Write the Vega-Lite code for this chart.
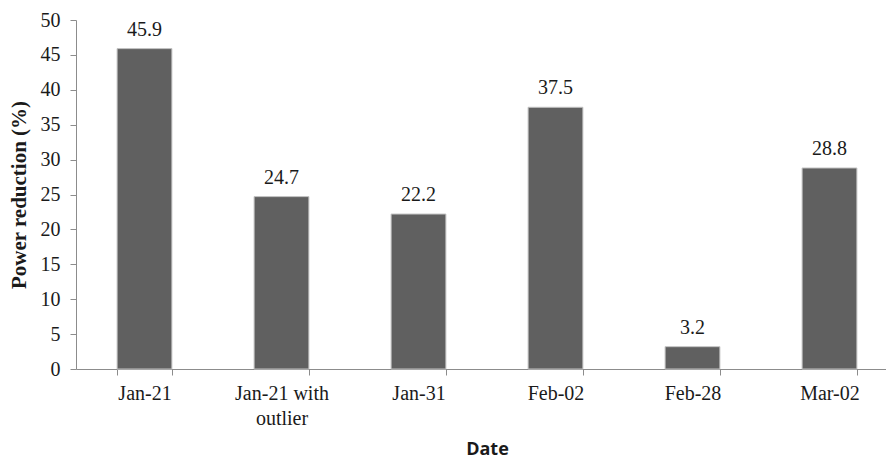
{
  "$schema": "https://vega.github.io/schema/vega-lite/v6.json",
  "width": 822,
  "height": 349,
  "autosize": {"type": "none"},
  "padding": {"left": 76, "top": 20, "right": 0, "bottom": 90},
  "background": "white",
  "config": {
    "view": {"stroke": null},
    "axis": {
      "domainColor": "#8c8c8c",
      "tickColor": "#8c8c8c",
      "grid": false,
      "labelFont": "'Liberation Serif', 'Times New Roman', serif",
      "labelFontSize": 20,
      "labelColor": "#1a1a1a"
    }
  },
  "data": {
    "values": [
      {"date": "Jan-21", "reduction": 45.9},
      {"date": "Jan-21 with outlier", "reduction": 24.7},
      {"date": "Jan-31", "reduction": 22.2},
      {"date": "Feb-02", "reduction": 37.5},
      {"date": "Feb-28", "reduction": 3.2},
      {"date": "Mar-02", "reduction": 28.8}
    ]
  },
  "encoding": {
    "x": {
      "field": "date",
      "type": "nominal",
      "sort": null,
      "scale": {"paddingInner": 0.6, "paddingOuter": 0.3},
      "axis": {
        "title": "Date",
        "titleFont": "'Open Sans', sans-serif",
        "titleFontSize": 18,
        "titleFontWeight": "bold",
        "titleColor": "#1a1a1a",
        "titlePadding": 12,
        "labelAngle": 0,
        "labelPadding": 8,
        "labelLineHeight": 25,
        "labelExpr": "datum.value == 'Jan-21 with outlier' ? ['Jan-21 with', 'outlier'] : datum.value",
        "tickBand": "extent",
        "tickSize": 6
      }
    },
    "y": {
      "field": "reduction",
      "type": "quantitative",
      "scale": {"domain": [0, 50]},
      "axis": {
        "title": "Power reduction (%)",
        "titleFont": "'Liberation Serif', 'Times New Roman', serif",
        "titleFontSize": 21,
        "titleFontWeight": "bold",
        "titleColor": "#1a1a1a",
        "titlePadding": 11,
        "values": [0, 5, 10, 15, 20, 25, 30, 35, 40, 45, 50],
        "tickSize": 6,
        "labelPadding": 10
      }
    }
  },
  "layer": [
    {
      "mark": {"type": "bar", "color": "#606060", "stroke": "#c4c4c4", "strokeWidth": 1}
    },
    {
      "mark": {
        "type": "text",
        "font": "'Liberation Serif', 'Times New Roman', serif",
        "fontSize": 20,
        "color": "#1a1a1a",
        "baseline": "alphabetic",
        "dy": -13
      },
      "encoding": {"text": {"field": "reduction", "type": "quantitative", "format": ".1f"}}
    }
  ]
}
